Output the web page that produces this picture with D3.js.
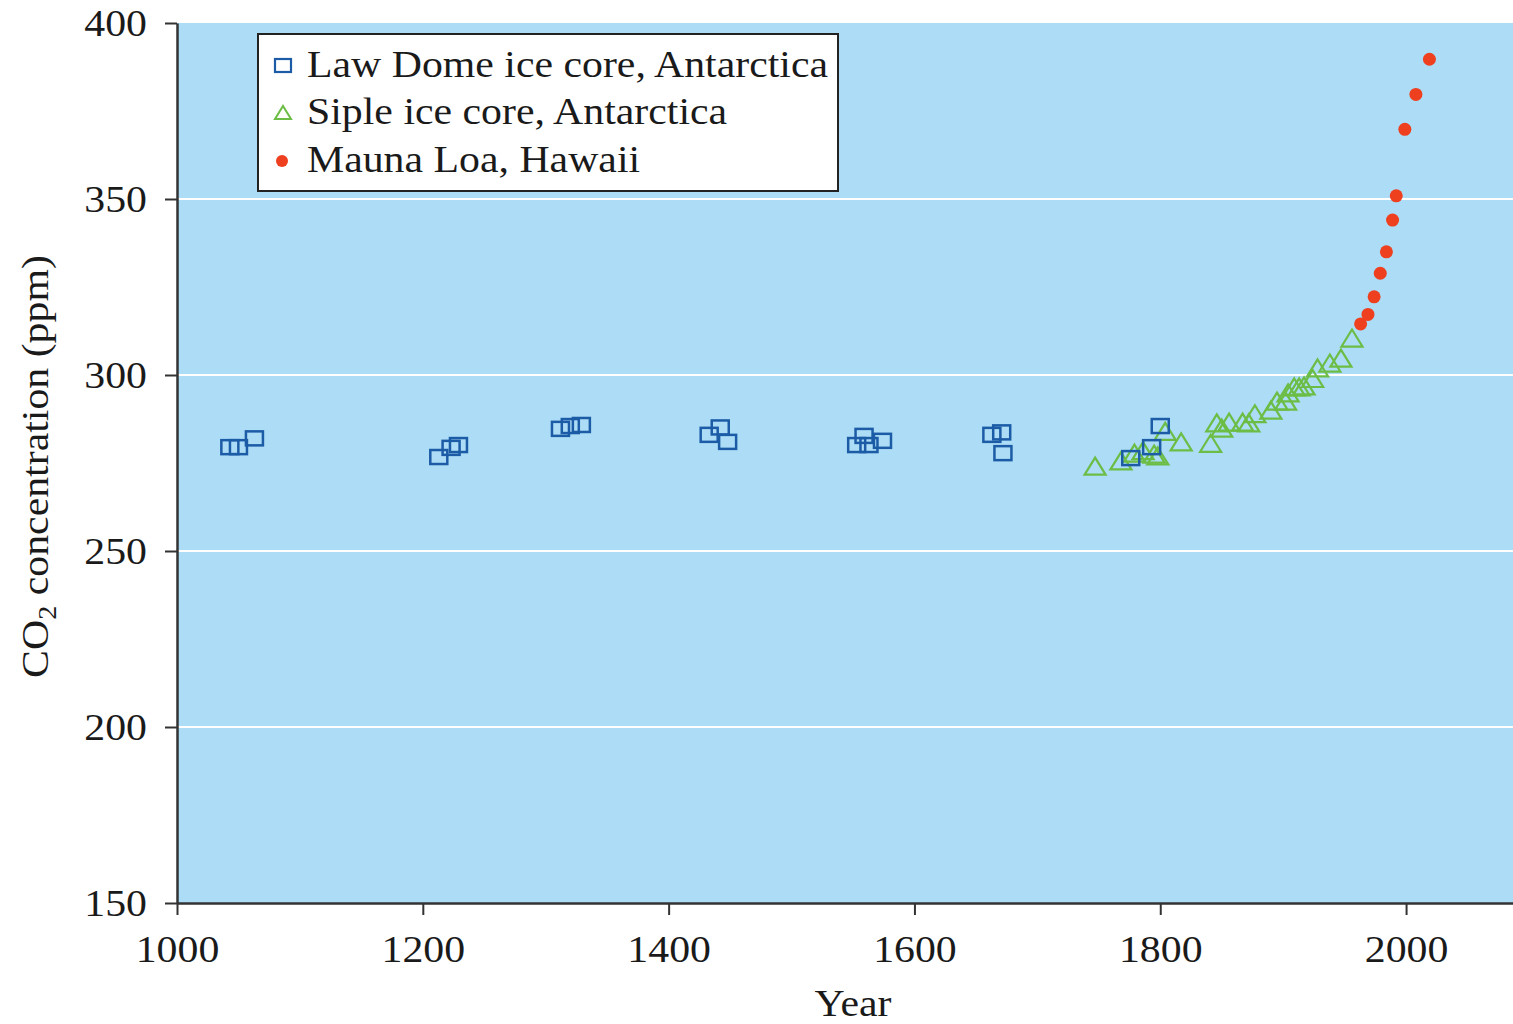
<!DOCTYPE html>
<html>
<head>
<meta charset="utf-8">
<script src="https://cdn.jsdelivr.net/npm/d3@7"></script>
<style>
  body { margin: 0; background: #fff; }
  text { font-family: "Liberation Serif", "DejaVu Serif", serif; fill: #1a1a1a; }
</style>
</head>
<body>
<svg id="chart"></svg>
<script>
// Law Dome ice core (squares)
var lawYears = [1043, 1050, 1063, 1213, 1223, 1229, 1312, 1320, 1329, 1433, 1442, 1448,
                1553, 1559, 1563, 1574, 1663, 1671, 1672, 1776, 1793, 1800];
var lawPpm   = [279.5, 279.5, 282, 276.7, 279.3, 280.1, 284.7, 285.5, 285.8, 283, 285.1, 281,
                280.1, 282.7, 280.1, 281.3, 283, 283.7, 277.8, 276.4, 279.5, 285.5];

// Siple ice core (triangles)
var sipleYears = [1747, 1768, 1779, 1786, 1795, 1798, 1804, 1817, 1841, 1846, 1850, 1856,
                  1867, 1872, 1877, 1890, 1895, 1902, 1904, 1909, 1913, 1917, 1924, 1928,
                  1938, 1947, 1956];
var siplePpm   = [274.1, 275.6, 277.8, 278.5, 277.5, 277, 284, 281, 280.6, 286.4, 284.9, 286.6,
                  286.6, 286.4, 289, 290, 292.6, 292.6, 294.9, 296.6, 296.6, 296.9, 299, 302,
                  303.4, 304.8, 310.5];

// Mauna Loa (circles)
var maunaYears = [1963, 1969, 1974, 1979, 1984, 1989, 1992, 1999, 2008, 2019];
var maunaPpm   = [314.5, 317.2, 322.2, 328.9, 335, 344, 350.9, 369.8, 379.7, 389.7];

var yearTicks = [1000, 1200, 1400, 1600, 1800, 2000];
var ppmTicks = [150, 200, 250, 300, 350, 400];
var legendLabels = ["Law Dome ice core, Antarctica", "Siple ice core, Antarctica", "Mauna Loa, Hawaii"];

var screen = { width: 1513, height: 1024 };
var margins = { top: 23, bottom: 121, left: 177, right: 0 };
var graphWidth = screen.width - margins.left - margins.right;
var graphHeight = screen.height - margins.top - margins.bottom;

// the original type is a bit wider than Liberation Serif
var stretch = 1.13;

var colors = { law: "#1c5ca6", siple: "#6cbd45", mauna: "#ee3f1f" };

var svg = d3.select("#chart")
            .attr("width", screen.width)
            .attr("height", screen.height);

var xScale = d3.scaleLinear()
               .domain([1000, 2087])
               .range([0, graphWidth]);

var yScale = d3.scaleLinear()
               .domain([150, 400])
               .range([graphHeight, 0]);

var plot = svg.append("g")
              .attr("transform", "translate(" + margins.left + "," + margins.top + ")");

// background
plot.append("rect")
    .attr("width", graphWidth)
    .attr("height", graphHeight)
    .attr("fill", "#acdcf6");

// white gridlines
plot.selectAll(".grid")
    .data(ppmTicks.filter(function(d) { return d > 150 && d < 400; }))
    .enter()
    .append("line")
    .attr("x1", 0)
    .attr("x2", graphWidth)
    .attr("y1", function(d) { return yScale(d); })
    .attr("y2", function(d) { return yScale(d); })
    .attr("stroke", "#fff")
    .attr("stroke-width", 2);

// axes
var xAxis = d3.axisBottom(xScale).tickValues(yearTicks).tickFormat(d3.format("d")).tickSize(12).tickSizeOuter(0);
var yAxis = d3.axisLeft(yScale).tickValues(ppmTicks).tickSize(12).tickSizeOuter(0);

var xAxisGraphic = plot.append("g")
                       .attr("transform", "translate(0," + graphHeight + ")")
                       .call(xAxis);
var yAxisGraphic = plot.append("g").call(yAxis);

[xAxisGraphic, yAxisGraphic].forEach(function(g) {
  g.select(".domain").attr("stroke", "#333").attr("stroke-width", 2.5);
  g.selectAll(".tick line").attr("stroke", "#333").attr("stroke-width", 2);
  g.selectAll(".tick text")
   .attr("fill", "#1a1a1a")
   .attr("transform", "scale(" + stretch + ",1)")
   .style("font-family", "'Liberation Serif', serif")
   .style("font-size", "37px");
});
xAxisGraphic.selectAll(".tick text").attr("dy", "0").attr("y", 59);
yAxisGraphic.selectAll(".tick text").attr("x", -30 / stretch).attr("dy", "0.33em");

// Siple triangles
var triW = 21, triH = 17;
plot.selectAll(".siple")
    .data(sipleYears)
    .enter()
    .append("path")
    .attr("d", function(d, i) {
      var cx = xScale(d), cy = yScale(siplePpm[i]);
      return "M" + cx + "," + (cy - triH / 2) +
             "L" + (cx + triW / 2) + "," + (cy + triH / 2) +
             "L" + (cx - triW / 2) + "," + (cy + triH / 2) + "Z";
    })
    .attr("fill", "none")
    .attr("stroke", colors.siple)
    .attr("stroke-width", 2.2);

// Law Dome squares
var sqW = 17, sqH = 14;
plot.selectAll(".law")
    .data(lawYears)
    .enter()
    .append("rect")
    .attr("x", function(d) { return xScale(d) - sqW / 2; })
    .attr("y", function(d, i) { return yScale(lawPpm[i]) - sqH / 2; })
    .attr("width", sqW)
    .attr("height", sqH)
    .attr("fill", "none")
    .attr("stroke", colors.law)
    .attr("stroke-width", 2.5);

// Mauna Loa circles
plot.selectAll(".mauna")
    .data(maunaYears)
    .enter()
    .append("circle")
    .attr("cx", function(d) { return xScale(d); })
    .attr("cy", function(d, i) { return yScale(maunaPpm[i]); })
    .attr("r", 6.5)
    .attr("fill", colors.mauna);

// legend
var legend = svg.append("g").attr("transform", "translate(258,34)");
legend.append("rect")
      .attr("width", 580)
      .attr("height", 157)
      .attr("fill", "#fff")
      .attr("stroke", "#222")
      .attr("stroke-width", 2);

var rowY = [32, 79, 127];
legend.append("rect")
      .attr("x", 17).attr("y", rowY[0] - 7)
      .attr("width", 16).attr("height", 13)
      .attr("fill", "none").attr("stroke", colors.law).attr("stroke-width", 2.2);
legend.append("path")
      .attr("d", "M25," + (rowY[1] - 7) + "L33," + (rowY[1] + 6) + "L17," + (rowY[1] + 6) + "Z")
      .attr("fill", "none").attr("stroke", colors.siple).attr("stroke-width", 2);
legend.append("circle")
      .attr("cx", 24).attr("cy", rowY[2])
      .attr("r", 6).attr("fill", colors.mauna);

legend.selectAll(".ltext")
      .data(legendLabels)
      .enter()
      .append("text")
      .attr("transform", function(d, i) {
        return "translate(49," + (rowY[i] + 11) + ") scale(" + stretch + ",1)";
      })
      .style("font-size", "37px")
      .text(function(d) { return d; });

// axis titles
svg.append("text")
   .attr("transform", "translate(" + (margins.left + xScale(1550)) + ",1016) scale(" + stretch + ",1)")
   .attr("text-anchor", "middle")
   .style("font-size", "37px")
   .text("Year");

var yTitle = svg.append("text")
   .attr("transform", "translate(48," + (margins.top + yScale(274)) + ") rotate(-90) scale(" + stretch + ",1)")
   .attr("text-anchor", "middle")
   .style("font-size", "37px");
yTitle.append("tspan").text("CO");
yTitle.append("tspan").attr("dy", 8).style("font-size", "25px").text("2");
yTitle.append("tspan").attr("dy", -8).text(" concentration (ppm)");
</script>
</body>
</html>
